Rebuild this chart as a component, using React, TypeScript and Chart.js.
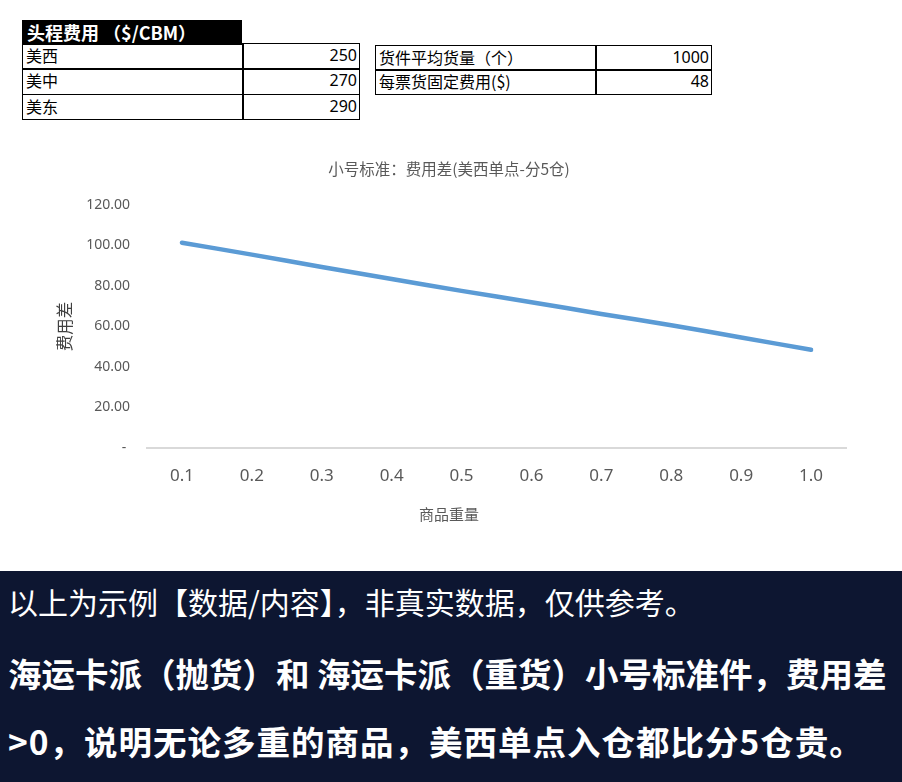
import { useEffect, useRef } from "react";
import { Chart, registerables } from "chart.js";

Chart.register(...registerables);

// table data
const headerLabel = "头程费用 （$/CBM）";
const regions = ["美西", "美中", "美东"];
const regionCosts = [250, 270, 290];
const paramLabels = ["货件平均货量（个）", "每票货固定费用($)"];
const paramValues = [1000, 48];

// chart data
const weights = ["0.1", "0.2", "0.3", "0.4", "0.5", "0.6", "0.7", "0.8", "0.9", "1.0"];
const costDiff = [101.4, 95.5, 89.4, 83.5, 77.6, 72.0, 66.2, 60.6, 54.6, 48.5];

const chartTitle = "小号标准：费用差(美西单点-分5仓)";
const xTitle = "商品重量";
const yTitle = "费用差";

const notes = [
  "以上为示例【数据/内容】，非真实数据，仅供参考。",
  "海运卡派（抛货）和 海运卡派（重货）小号标准件，费用差",
  ">0，说明无论多重的商品，美西单点入仓都比分5仓贵。",
];

const cjk = '"Noto Sans CJK SC", "Noto Sans", sans-serif';
const num = '"Noto Sans", "Noto Sans CJK SC", sans-serif';

const cell: React.CSSProperties = {
  position: "absolute",
  boxSizing: "border-box",
  border: "1.5px solid #000",
  fontFamily: cjk,
  fontSize: 16,
  color: "#000",
  lineHeight: "22px",
  whiteSpace: "nowrap",
  overflow: "hidden",
};

export default function App() {
  const canvasRef = useRef<HTMLCanvasElement>(null);

  useEffect(() => {
    document.body.style.margin = "0";
    const ctx = canvasRef.current?.getContext("2d");
    if (!ctx) return;

    const chart = new Chart(ctx, {
      type: "line",
      data: {
        labels: weights,
        datasets: [
          {
            label: yTitle,
            data: costDiff,
            borderColor: "#5B9BD5",
            backgroundColor: "#5B9BD5",
            borderWidth: 4.5,
            borderCapStyle: "round",
            borderJoinStyle: "round",
            tension: 0.3,
            pointRadius: 0,
            fill: false,
          },
        ],
      },
      options: {
        animation: false,
        responsive: true,
        maintainAspectRatio: false,
        layout: { padding: { left: 0, right: 12, top: 0, bottom: 0 } },
        plugins: {
          legend: { display: false },
          tooltip: { enabled: false },
          title: {
            display: true,
            text: chartTitle,
            color: "#595959",
            font: { family: cjk, size: 15.5, weight: "normal" },
            padding: { top: 9.7, bottom: 26.7 },
          },
          subtitle: {
            display: true,
            position: "bottom",
            text: xTitle,
            color: "#595959",
            font: { family: cjk, size: 15, weight: "normal" },
            padding: { top: 17, bottom: 27 },
          },
        },
        scales: {
          x: {
            offset: true,
            grid: { display: false, drawTicks: false },
            border: { display: true, color: "#d9d9d9", width: 2 },
            ticks: {
              color: "#595959",
              font: { family: num, size: 17 },
              padding: 17.5,
              maxRotation: 0,
            },
            afterFit: (scale) => {
              scale.height = 40;
            },
          },
          y: {
            min: 0,
            max: 120,
            grid: { display: false, drawTicks: false },
            border: { display: false },
            title: {
              display: true,
              text: yTitle,
              color: "#404040",
              font: { family: cjk, size: 16.5 },
              padding: { top: 2.4, bottom: 0 },
            },
            ticks: {
              stepSize: 20,
              color: "#595959",
              font: { family: num, size: 14 },
              padding: 17,
              callback: (v) => (Number(v) === 0 ? "- " : Number(v).toFixed(2)),
            },
            afterFit: (scale) => {
              scale.width = 95;
            },
          },
        },
      },
    });

    return () => chart.destroy();
  }, []);

  return (
    <div style={{ position: "relative", width: 902, height: 782, background: "#fff", overflow: "hidden" }}>
      {/* table 1 */}
      <div
        style={{
          ...cell,
          left: 22,
          top: 20,
          width: 220,
          height: 24.5,
          background: "#000",
          color: "#fff",
          fontSize: 18,
          fontWeight: "bold",
          paddingLeft: 4,
        }}
      >
        {headerLabel}
      </div>
      {regions.map((r, i) => (
        <div key={r}>
          <div style={{ ...cell, left: 22, top: 43 + i * 25.3, width: 221.5, height: 26.8, paddingLeft: 3 }}>{r}</div>
          <div
            style={{
              ...cell,
              left: 242,
              top: 43 + i * 25.3,
              width: 118,
              height: 26.8,
              textAlign: "right",
              paddingRight: 2,
              fontFamily: num,
            }}
          >
            {regionCosts[i]}
          </div>
        </div>
      ))}
      {/* table 2 */}
      {paramLabels.map((p, i) => (
        <div key={p}>
          <div style={{ ...cell, left: 375, top: 44.5 + i * 24.5, width: 221.5, height: 26, paddingLeft: 3 }}>{p}</div>
          <div
            style={{
              ...cell,
              left: 595,
              top: 44.5 + i * 24.5,
              width: 117,
              height: 26,
              textAlign: "right",
              paddingRight: 2,
              fontFamily: num,
            }}
          >
            {paramValues[i]}
          </div>
        </div>
      ))}

      <div style={{ position: "absolute", left: 52, top: 150, width: 806, height: 400 }}>
        <canvas ref={canvasRef} />
      </div>

      <div
        style={{
          position: "absolute",
          left: 0,
          top: 571,
          width: 902,
          height: 211,
          background: "#0d1631",
          color: "#fff",
          fontFamily: cjk,
        }}
      >
        <div style={{ position: "absolute", left: 8, top: 10, lineHeight: "40px", fontSize: 30, whiteSpace: "nowrap" }}>
          {notes[0]}
        </div>
        <div
          style={{
            position: "absolute",
            left: 8,
            top: 80,
            lineHeight: "44px",
            fontSize: 33.5,
            fontWeight: "bold",
            whiteSpace: "nowrap",
          }}
        >
          {notes[1]}
        </div>
        <div
          style={{
            position: "absolute",
            left: 8,
            top: 148,
            lineHeight: "44px",
            fontSize: 33.5,
            fontWeight: "bold",
            letterSpacing: 1,
            whiteSpace: "nowrap",
          }}
        >
          {notes[2]}
        </div>
      </div>
    </div>
  );
}
